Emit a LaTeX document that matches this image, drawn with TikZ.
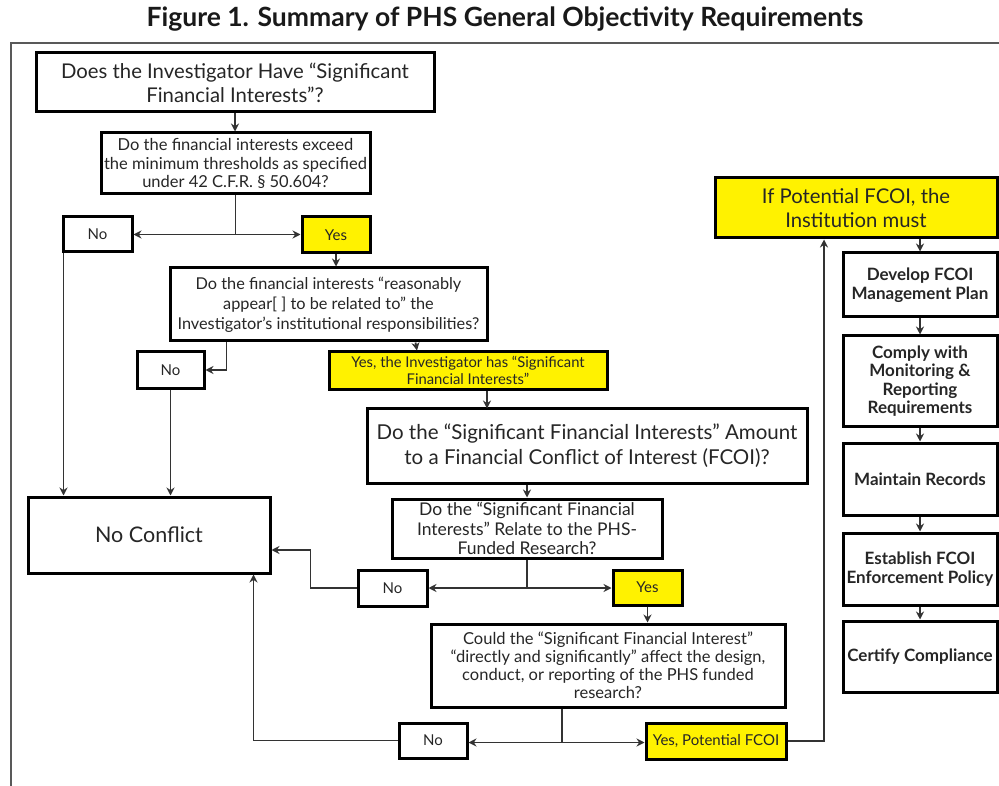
\documentclass[tikz,border=0pt]{standalone}
\usepackage{fontspec}
\setmainfont{Lato}
\usetikzlibrary{arrows.meta,calc}
\newcommand\mkbox[7]{\node[#1, minimum width={#5-#3}, minimum height={#6-#4}] (#2) at ({(#3+#5)/2},{(#4+#6)/2}) {#7};}
\newcommand\fsz[2]{\fontsize{#1}{#2}\selectfont}
\begin{document}
\begin{tikzpicture}[x=1pt,y=-1pt,
  bx/.style={draw=black, line width=3pt, fill=white, inner sep=0pt, align=center, text=black!85},
  ybx/.style={bx, fill=yellow},
  conn/.style={draw=black!80, line width=1.8pt},
  arr/.style={conn, -{Stealth[length=8pt,width=8pt]}},
  lbl/.style={font=\fsz{15}{17}},
  rbx/.style={bx, font=\bfseries\fsz{17}{18.5}},
]
\useasboundingbox (0,0) rectangle (999,786);
\fill[white] (0,0) rectangle (999,786);
% title and frame
\node[font=\bfseries\fsz{26.5}{30}, text=black!90] (title) at (505,19) {Figure 1. Summary of PHS General Objectivity Requirements};
\draw[black!65, line width=2.8pt] (999,43) -- (11,43) -- (11,786);
% left flow
\mkbox{bx,font=\fsz{20.3}{24}}{A}{36}{53}{434}{112}{Does the Investigator Have “Significant\\Financial Interests”?}
\mkbox{bx,font=\fsz{16.5}{18.5}}{B}{101}{133}{370}{194}{Do the financial interests exceed\\the minimum thresholds as specified\\under 42 C.F.R. § 50.604?}
\mkbox{bx,lbl}{No1}{63}{217}{132}{252}{No}
\mkbox{ybx,lbl}{Yes1}{302}{217}{370}{253}{Yes}
\mkbox{bx,font=\fsz{16.3}{20}}{C}{170}{268}{487}{341}{Do the financial interests “reasonably\\appear[ ] to be related to” the\\Investigator’s institutional responsibilities?}
\mkbox{bx,lbl}{No2}{137}{352}{204}{388}{No}
\mkbox{ybx,font=\fsz{14.8}{17}}{Yes2}{329}{352}{607}{389}{Yes, the Investigator has “Significant\\Financial Interests”}
\mkbox{bx,font=\fsz{20.5}{25.5}}{D}{367}{408}{807}{483}{Do the “Significant Financial Interests” Amount\\to a Financial Conflict of Interest (FCOI)?}
\mkbox{bx,font=\fsz{21.5}{24}}{NC}{28}{497}{270}{573}{No Conflict}
\mkbox{bx,font=\fsz{17.5}{19.5}}{E}{392}{499}{662}{558}{Do the “Significant Financial\\Interests” Relate to the PHS-\\Funded Research?}
\mkbox{bx,lbl}{No3}{358}{570}{427}{606}{No}
\mkbox{ybx,lbl}{Yes3}{613}{570}{682}{605}{Yes}
\mkbox{bx,font=\fsz{16.5}{18}}{F}{431}{624}{785}{707}{Could the “Significant Financial Interest”\\“directly and significantly” affect the design,\\conduct, or reporting of the PHS funded\\research?}
\mkbox{bx,lbl}{No4}{399}{723}{467}{758}{No}
\mkbox{ybx,lbl}{Yes4}{646}{723}{786}{759}{Yes, Potential FCOI}
% right column
\mkbox{ybx,font=\fsz{20.3}{24}}{G}{715}{178}{997}{238}{If Potential FCOI, the\\Institution must}
\mkbox{rbx}{H1}{843}{253}{997}{317}{Develop FCOI\\Management Plan}
\mkbox{rbx}{H2}{843}{336}{997}{426}{Comply with\\Monitoring \&\\Reporting\\Requirements}
\mkbox{rbx}{H3}{843}{443}{997}{515}{Maintain Records}
\mkbox{rbx}{H4}{843}{533}{997}{605}{Establish FCOI\\Enforcement Policy}
\mkbox{rbx}{H5}{843}{621}{997}{692}{Certify Compliance}
% connectors
\draw[arr] (A.south) -- (A.south |- B.north);
\draw[conn] (B.south) -- (B.south |- No1.east) coordinate (j1);
\draw[arr] (j1) -- (j1 -| No1.east);
\draw[arr] (j1) -- (j1 -| Yes1.west);
\draw[arr] (Yes1.south) -- (Yes1.south |- C.north);
\draw[arr] ([xshift=58pt]C.south west) |- (No2.east);
\draw[arr] ([xshift=247pt]C.south west) -- ([xshift=-51pt]Yes2.north);
\draw[arr] ([xshift=19pt]Yes2.south) -- ++(0,18);
\draw[arr] let \p1=([xshift=2pt]No1.south west), \p2=(NC.north) in (\p1) -- (\x1,\y2);
\draw[arr] (No2.south) -- (No2.south |- NC.north);
\draw[arr] (E.north |- D.south) -- (E.north);
\draw[conn] (E.south) -- (E.south |- No3.east) coordinate (j3);
\draw[arr] (j3) -- (j3 -| No3.east);
\draw[arr] (j3) -- (j3 -| Yes3.west);
\draw[arr] (No3.west) -- ++(-46,0) |- ([yshift=-15pt]NC.east);
\draw[arr] (Yes3.south) -- (Yes3.south |- F.north);
\draw[conn] ([xshift=-46pt]F.south) -- ++(0,34) coordinate (j4);
\draw[arr] (j4) -- (j4 -| No4.east);
\draw[arr] (j4) -- (j4 -| Yes4.west);
\draw[arr] (No4.west) -| ([xshift=-18pt]NC.south east);
\draw[arr] (Yes4.east) -| ([xshift=-32pt]G.south);
\draw[arr] (H1.north |- G.south) -- (H1.north);
\draw[arr] (H1.south) -- (H2.north);
\draw[arr] (H2.south) -- (H3.north);
\draw[arr] (H3.south) -- (H4.north);
\draw[arr] (H4.south) -- (H5.north);
\end{tikzpicture}
\end{document}
